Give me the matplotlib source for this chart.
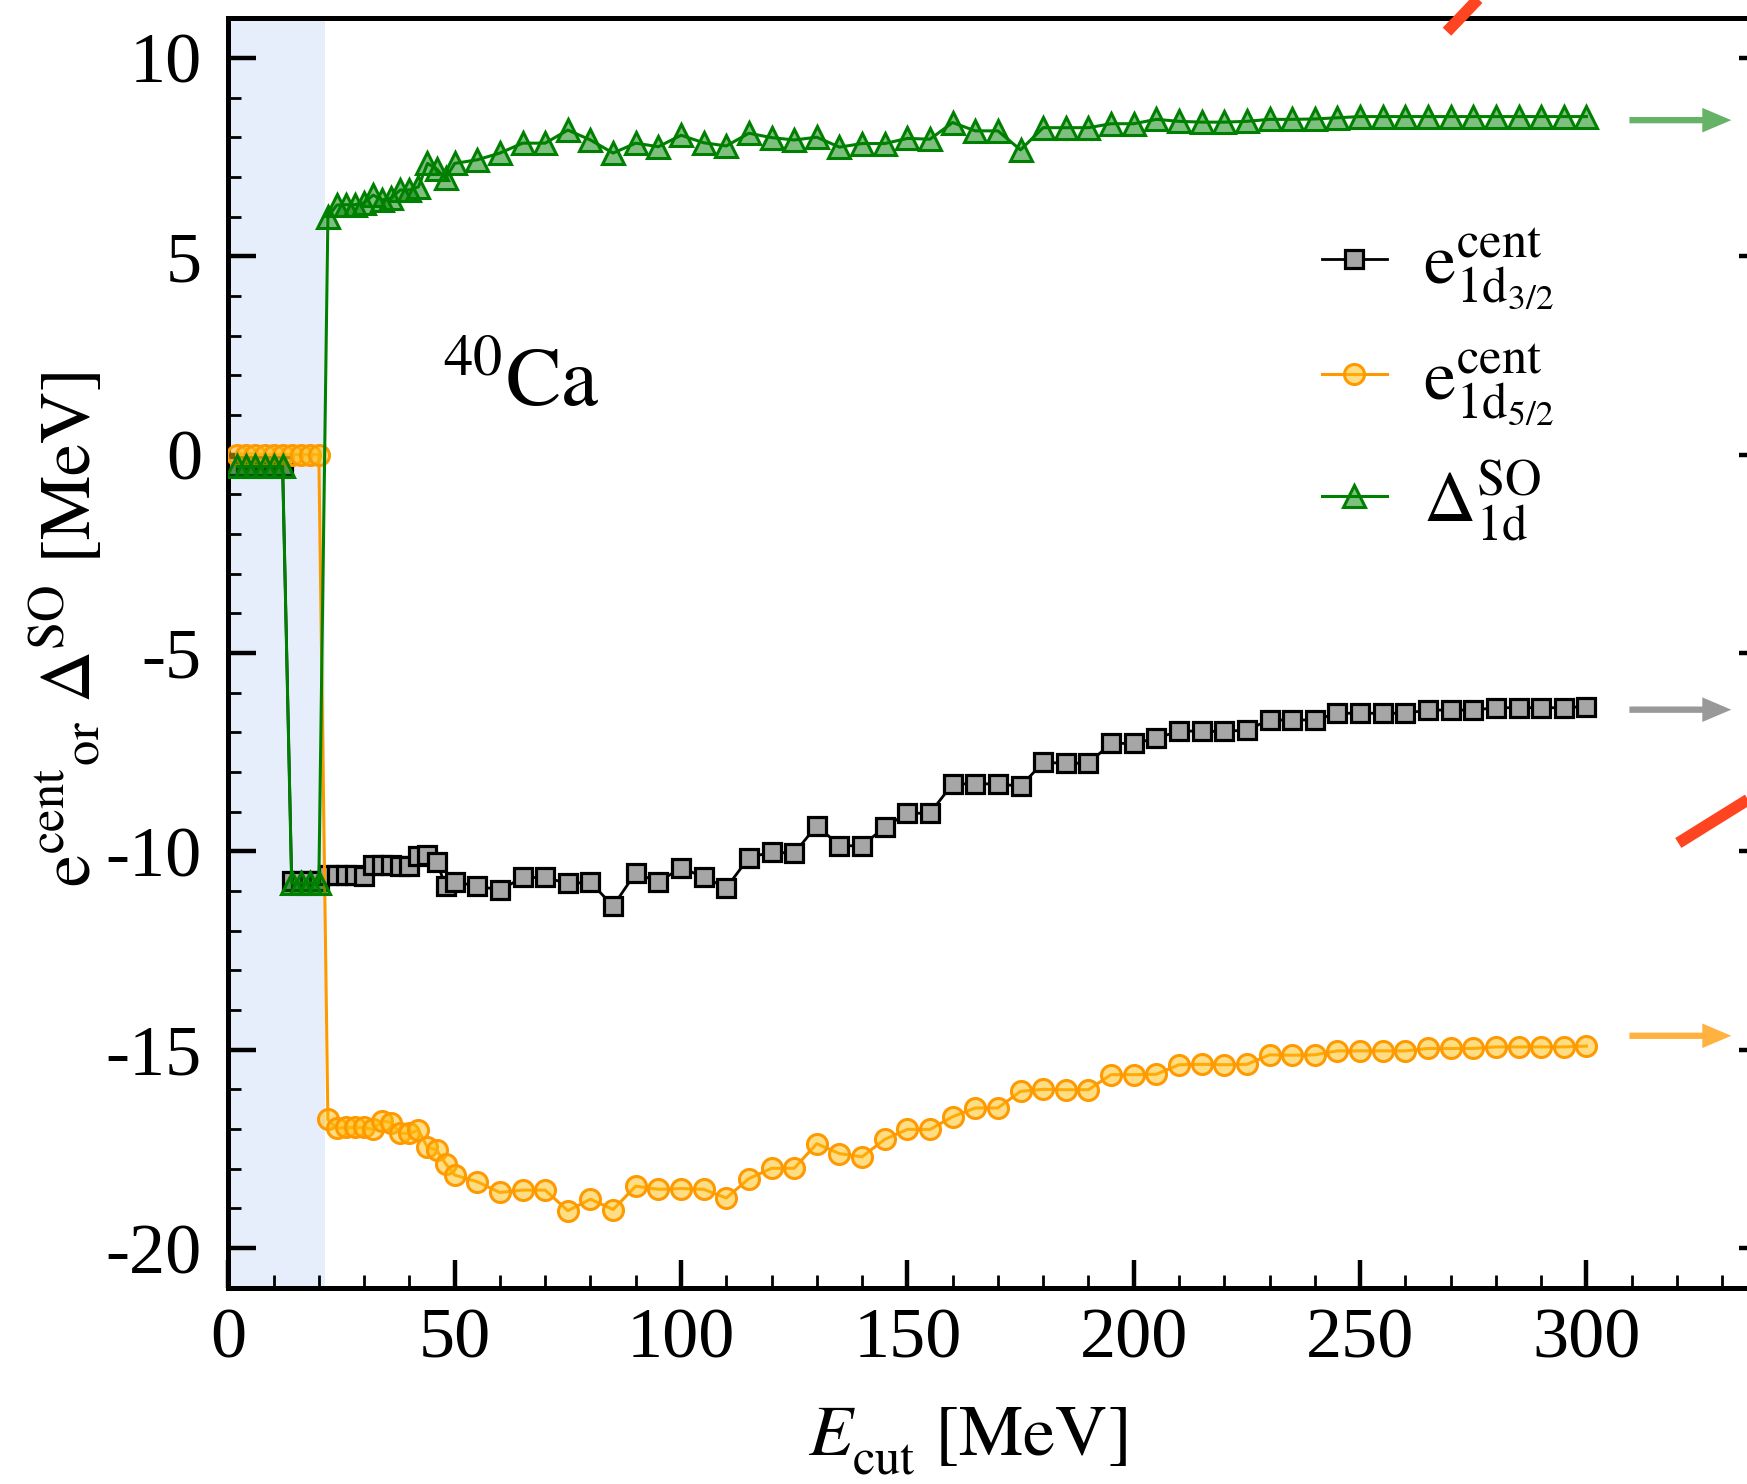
import matplotlib
matplotlib.use('Agg')
import matplotlib.pyplot as plt
from matplotlib.ticker import MultipleLocator

plt.rcParams['font.family'] = 'serif'
plt.rcParams['font.serif'] = ['Liberation Serif', 'DejaVu Serif']
plt.rcParams['mathtext.fontset'] = 'stix'
plt.rcParams['axes.unicode_minus'] = False

# ---------------- data ----------------
e_cut = [2, 4, 6, 8, 10, 12, 14, 16, 18, 20, 22, 24, 26, 28, 30, 32, 34, 36, 38, 40,
         42, 44, 46, 48, 50,
         55, 60, 65, 70, 75, 80, 85, 90, 95, 100,
         105, 110, 115, 120, 125, 130, 135, 140, 145, 150,
         155, 160, 165, 170, 175, 180, 185, 190, 195, 200,
         205, 210, 215, 220, 225, 230, 235, 240, 245, 250,
         255, 260, 265, 270, 275, 280, 285, 290, 295, 300]

e_1d32 = [-0.3, -0.3, -0.3, -0.3, -0.3, -0.3, -10.75, -10.75, -10.75, -10.75,
          -10.6, -10.6, -10.6, -10.6, -10.62, -10.35, -10.35, -10.35, -10.38, -10.38,
          -10.12, -10.1, -10.26, -10.87, -10.78,
          -10.87, -10.98, -10.66, -10.66, -10.81, -10.78, -11.38, -10.54, -10.78, -10.41,
          -10.65, -10.92, -10.16, -10.02, -10.05, -9.35, -9.86, -9.86, -9.39, -9.04,
          -9.04, -8.30, -8.30, -8.30, -8.36, -7.76, -7.78, -7.78, -7.28, -7.28,
          -7.15, -6.97, -6.97, -6.98, -6.94, -6.69, -6.69, -6.69, -6.52, -6.52,
          -6.52, -6.52, -6.44, -6.44, -6.44, -6.38, -6.38, -6.38, -6.38, -6.35]

e_1d52 = [0.0, 0.0, 0.0, 0.0, 0.0, 0.0, 0.0, 0.0, 0.0, 0.0,
          -16.76, -16.98, -16.96, -16.96, -16.96, -17.01, -16.79, -16.84, -17.11, -17.11,
          -17.03, -17.46, -17.53, -17.87, -18.16,
          -18.33, -18.60, -18.54, -18.54, -19.06, -18.77, -19.03, -18.44, -18.52, -18.50,
          -18.52, -18.74, -18.25, -17.99, -17.99, -17.37, -17.62, -17.70, -17.26, -17.01,
          -17.01, -16.69, -16.47, -16.47, -16.05, -16.00, -16.01, -16.01, -15.63, -15.63,
          -15.62, -15.38, -15.37, -15.38, -15.37, -15.13, -15.14, -15.13, -15.03, -15.03,
          -15.03, -15.03, -14.97, -14.97, -14.97, -14.93, -14.93, -14.93, -14.93, -14.91]

delta_so = [-0.3, -0.3, -0.3, -0.3, -0.3, -0.3, -10.8, -10.8, -10.8, -10.8,
            6.0, 6.29, 6.3, 6.3, 6.35, 6.54, 6.42, 6.47, 6.67, 6.67,
            6.75, 7.34, 7.2, 6.96, 7.34,
            7.43, 7.6, 7.85, 7.85, 8.18, 7.93, 7.6, 7.85, 7.76, 8.05,
            7.86, 7.78, 8.10, 7.99, 7.93, 8.0, 7.75, 7.84, 7.84, 7.97,
            7.95, 8.37, 8.16, 8.16, 7.68, 8.24, 8.24, 8.24, 8.34, 8.34,
            8.45, 8.40, 8.38, 8.38, 8.40, 8.45, 8.45, 8.46, 8.49, 8.52,
            8.52, 8.52, 8.52, 8.52, 8.52, 8.52, 8.52, 8.52, 8.52, 8.52]

labels = [r'$\mathrm{e}^{\mathrm{cent}}_{\mathrm{1d}_{3/2}}$',
          r'$\mathrm{e}^{\mathrm{cent}}_{\mathrm{1d}_{5/2}}$',
          r'$\Delta^{\mathrm{SO}}_{\mathrm{1d}}$']

# extrapolated limits (arrows on the right)
arrow_y = [8.43, -6.43, -14.65]
arrow_x0 = 309.5
arrow_len = 22.5
arrow_colors = ['#008000', '#000000', '#ff9900']
arrow_alpha = [0.6, 0.4, 0.75]

# red strokes
red1_x = [269.2, 281.0]
red1_y = [10.66, 12.07]
red2_x = [320.3, 341.0]
red2_y = [-9.79, -8.32]

shade_edge = 21.4

# ---------------- figure ----------------
fig = plt.figure(figsize=(1747 / 200, 1484 / 200), dpi=200)
ax = fig.add_axes([0.13068, 0.13228, 0.88105, 0.85546])
ax.set_xlim(0, 340)
ax.set_ylim(-21, 11)

ax.axvspan(0, shade_edge, color='#e6eefb', lw=0, zorder=0)

l1, = ax.plot(e_cut, e_1d32, color='black', lw=1.0, marker='s', ms=6.4,
              mfc='#a6a6a6', mec='black', mew=1.15, label=labels[0], zorder=3)
l2, = ax.plot(e_cut, e_1d52, color='#ff9900', lw=1.1, marker='o', ms=7.2,
              mfc=(1.0, 0.74, 0.05, 0.5), mec='#ff9900', mew=1.1, label=labels[1], zorder=4)
l3, = ax.plot(e_cut, delta_so, color='#008000', lw=1.1, marker='^', ms=7.8,
              mfc=(0.0, 0.5, 0.0, 0.5), mec='#008000', mew=1.1, label=labels[2], zorder=5)

for y, c, a in zip(arrow_y, arrow_colors, arrow_alpha):
    ax.arrow(arrow_x0, y, arrow_len, 0.0, width=0.16, head_width=0.62,
             head_length=6.4, length_includes_head=True, lw=0,
             color=c, alpha=a, clip_on=False, zorder=6)

ax.plot(red1_x, red1_y, color='#ff4422', lw=4.2, clip_on=False,
        solid_capstyle='butt', zorder=6)
ax.plot(red2_x, red2_y, color='#ff4422', lw=4.2, clip_on=False,
        solid_capstyle='butt', zorder=6)

ax.text(47.1, 1.21, r'$^{40}\mathrm{Ca}$', fontsize=30, va='baseline', ha='left')

# axes styling
for s in ax.spines.values():
    s.set_linewidth(1.8)
ax.xaxis.set_major_locator(MultipleLocator(50))
ax.xaxis.set_minor_locator(MultipleLocator(10))
ax.yaxis.set_major_locator(MultipleLocator(5))
ax.yaxis.set_minor_locator(MultipleLocator(1))
ax.tick_params(which='both', direction='in', top=False, right=True, left=True, bottom=True)
ax.tick_params(which='major', length=10, width=1.6, labelsize=26)
ax.tick_params(which='minor', length=4.6, width=1.0)
ax.tick_params(axis='x', which='major', pad=7)
ax.tick_params(axis='y', which='major', pad=9.5)

ax.set_xlabel(r'$E^{}_{\mathrm{cut}}\ [\mathrm{MeV}]$', fontsize=26)
ax.xaxis.set_label_coords(0.480, -0.0924)
ax.set_ylabel(r'$\mathrm{e}^{\mathrm{cent}}{}_{\mathrm{or}}\ \Delta^{\mathrm{SO}}\ [\mathrm{MeV}]$',
              fontsize=26)
ax.yaxis.set_label_coords(-0.0798, 0.5185)

ax.legend(handles=[l1, l2, l3], loc='upper left', bbox_to_anchor=(0.7567, 0.847),
          bbox_transform=fig.transFigure, frameon=False, fontsize=26,
          handlelength=0.9, handletextpad=0.5, labelspacing=0.42,
          borderpad=0, borderaxespad=0)

fig.savefig('out.png', dpi=200)
